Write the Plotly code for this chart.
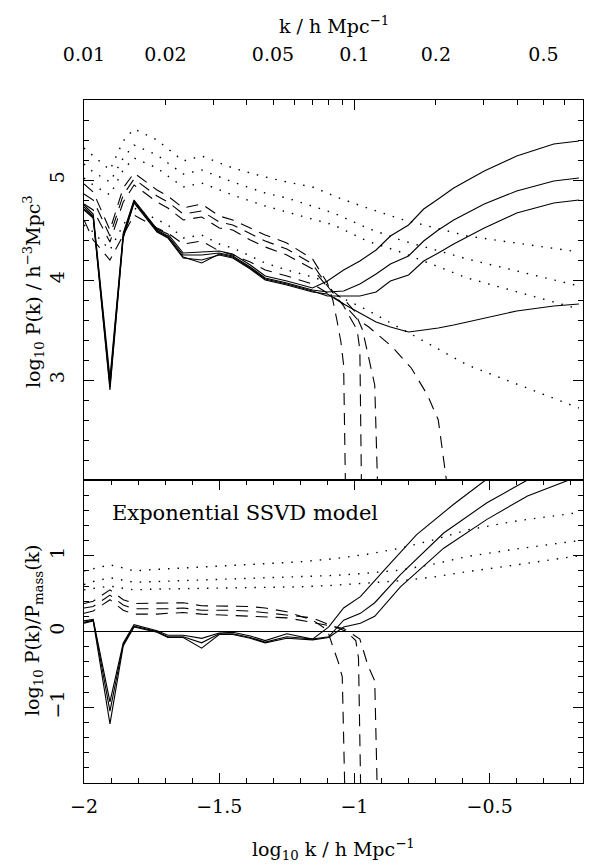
import math
import plotly.graph_objects as go

# ---------------- data ----------------
XMAX = math.log10(0.7)

# common low-k abscissae, log10 k
XL = [-2.0, -1.966, -1.904, -1.855, -1.815, -1.73, -1.69, -1.633, -1.565,
      -1.50, -1.45, -1.385, -1.33, -1.25, -1.155, -1.10]
# high-k abscissae for the solid curves
XH = [-1.04, -0.98, -0.92, -0.867, -0.80, -0.744, -0.69, -0.633, -0.52,
      -0.40, -0.263, -0.17]

# ---- upper panel: log10 P(k) ----
PK_MASS_LO = [4.70, 4.62, 2.90, 4.42, 4.77, 4.48, 4.42, 4.22, 4.20, 4.25,
              4.22, 4.11, 4.00, 3.95, 3.88, 3.86]
PK_MASS_HI = [3.76, 3.67, 3.58, 3.53, 3.48, 3.50, 3.52, 3.55, 3.62, 3.69,
              3.74, 3.76]
PK_G1_LO = [4.75, 4.66, 3.02, 4.47, 4.80, 4.51, 4.46, 4.27, 4.28, 4.29,
            4.26, 4.15, 4.04, 3.99, 3.92, 3.99]
PK_G1_HI = [4.10, 4.19, 4.30, 4.44, 4.55, 4.71, 4.81, 4.92, 5.09, 5.24,
            5.36, 5.39]
PK_G2_LO = [4.73, 4.64, 2.97, 4.45, 4.79, 4.50, 4.44, 4.25, 4.25, 4.27,
            4.24, 4.13, 4.02, 3.97, 3.90, 3.88]
PK_G2_HI = [3.89, 3.96, 4.06, 4.16, 4.24, 4.39, 4.50, 4.60, 4.76, 4.89,
            4.99, 5.02]
PK_G3_LO = [4.71, 4.63, 2.93, 4.43, 4.78, 4.49, 4.43, 4.23, 4.17, 4.26,
            4.23, 4.12, 4.01, 3.96, 3.89, 3.84]
PK_G3_HI = [3.84, 3.84, 3.88, 3.99, 4.05, 4.19, 4.27, 4.36, 4.52, 4.67,
            4.77, 4.80]

# dashed (damped redshift-space) curves, upper panel
PKD_A_LO = [4.96, 4.88, 4.50, 4.92, 5.07, 4.90, 4.84, 4.72, 4.76, 4.64,
            4.60, 4.52, 4.45, 4.37, 4.21, 3.97]
PKD_A_HX = [-1.08, -1.065, -1.05, -1.04, -1.032, -1.028]
PKD_A_HI = [3.80, 3.60, 3.38, 3.15, 2.00, 1.00]
PKD_B_LO = [4.86, 4.80, 4.44, 4.85, 5.01, 4.84, 4.78, 4.66, 4.69, 4.58,
            4.55, 4.46, 4.39, 4.31, 4.16, 3.94]
PKD_B_HX = [-1.04, -1.015, -0.99, -0.98, -0.975, -0.97]
PKD_B_HI = [3.74, 3.62, 3.50, 3.30, 2.00, 1.00]
PKD_C_LO = [4.76, 4.70, 4.38, 4.78, 4.95, 4.78, 4.72, 4.60, 4.63, 4.52,
            4.50, 4.40, 4.33, 4.25, 4.11, 3.93]
PKD_C_HX = [-1.03, -1.00, -0.97, -0.95, -0.935, -0.925, -0.915, -0.91]
PKD_C_HI = [3.78, 3.69, 3.50, 3.25, 3.06, 2.95, 2.00, 1.00]
PKD_D_LO = [4.60, 4.40, 4.20, 4.45, 4.65, 4.52, 4.47, 4.36, 4.39, 4.29,
            4.25, 4.18, 4.10, 4.04, 3.96, 3.87]
PKD_D_HX = [-1.04, -0.99, -0.947, -0.86, -0.79, -0.73, -0.69, -0.66, -0.655]
PKD_D_HI = [3.76, 3.61, 3.53, 3.33, 3.12, 2.85, 2.60, 2.00, 1.00]

# dotted curves, upper panel
XDH = [-1.077, -0.953, -0.83, -0.583, -0.17]
PKT_1_LO = [5.32, 5.24, 5.10, 5.39, 5.51, 5.40, 5.31, 5.19, 5.24, 5.17,
            5.12, 5.07, 5.03, 4.98, 4.93, 4.87]
PKT_1_HI = [4.84, 4.72, 4.61, 4.44, 4.28]
PKT_2_LO = [5.16, 5.08, 4.98, 5.22, 5.35, 5.25, 5.17, 5.06, 5.10, 5.03,
            4.98, 4.92, 4.87, 4.82, 4.74, 4.69]
PKT_2_HI = [4.67, 4.52, 4.40, 4.21, 3.94]
PKT_3_LO = [5.02, 4.95, 4.85, 5.10, 5.22, 5.12, 5.04, 4.93, 4.97, 4.90,
            4.85, 4.79, 4.74, 4.68, 4.61, 4.57]
PKT_3_HI = [4.55, 4.39, 4.28, 4.02, 3.71]
PKT_4_LO = [4.55, 4.48, 4.30, 4.55, 4.72, 4.60, 4.55, 4.42, 4.45, 4.36,
            4.32, 4.24, 4.17, 4.10, 4.03, 3.98]
PKT_4_HI = [3.86, 3.70, 3.52, 3.15, 2.72]

# ---- lower panel: log10 P(k)/P_mass(k) ----
XL15 = XL[:15]
R_S1_LO = [0.14, 0.16, -0.93, -0.15, 0.09, 0.01, -0.05, -0.05, -0.09, -0.02,
           -0.01, -0.06, -0.12, -0.03, -0.10]
R_S1_HX = [-1.095, -1.04, -0.978, -0.89, -0.77, -0.633, -0.515, -0.40]
R_S1_HI = [0.06, 0.31, 0.46, 0.81, 1.28, 1.68, 2.00, 2.35]
R_S2_LO = [0.12, 0.15, -1.05, -0.17, 0.07, 0.00, -0.07, -0.07, -0.15, -0.03,
           -0.03, -0.08, -0.14, -0.07, -0.10]
R_S2_HX = [-1.095, -1.04, -0.978, -0.925, -0.83, -0.67, -0.51, -0.36, -0.25]
R_S2_HI = [-0.07, 0.15, 0.24, 0.38, 0.75, 1.30, 1.70, 2.00, 2.30]
R_S3_LO = [0.11, 0.14, -1.22, -0.19, 0.06, -0.01, -0.08, -0.08, -0.22, -0.04,
           -0.04, -0.09, -0.15, -0.09, -0.11]
R_S3_HX = [-1.095, -1.04, -0.978, -0.925, -0.83, -0.67, -0.51, -0.36, -0.22,
           -0.17]
R_S3_HI = [-0.08, 0.06, 0.11, 0.20, 0.59, 1.10, 1.48, 1.79, 1.98, 2.05]

R_D_A_LO = [0.37, 0.40, 0.55, 0.42, 0.37, 0.37, 0.37, 0.38, 0.34, 0.34,
            0.33, 0.33, 0.31, 0.26, 0.15]
R_D_A_HX = [-1.10, -1.08, -1.06, -1.045, -1.035, -1.03]
R_D_A_HI = [0.02, -0.20, -0.40, -0.60, -2.50, -3.00]
R_D_B_LO = [0.31, 0.33, 0.48, 0.35, 0.30, 0.30, 0.30, 0.31, 0.28, 0.28,
            0.28, 0.27, 0.25, 0.22, 0.18]
R_D_B_HX = [-1.10, -1.03, -0.995, -0.985, -0.975, -0.97]
R_D_B_HI = [0.10, 0.00, -0.12, -0.35, -2.50, -3.00]
R_D_C_LO = [0.24, 0.27, 0.42, 0.28, 0.23, 0.23, 0.24, 0.25, 0.23, 0.22,
            0.22, 0.21, 0.20, 0.18, 0.12]
R_D_C_HX = [-1.10, -1.04, -0.98, -0.95, -0.925, -0.915, -0.91]
R_D_C_HI = [0.08, 0.04, -0.10, -0.45, -0.65, -2.50, -3.00]

XRT = [-2.0, -1.966, -1.904, -1.855, -1.815, -1.73, -1.5, -1.2, -1.077,
       -0.953, -0.83, -0.707, -0.583, -0.40, -0.17]
R_T1 = [0.80, 0.83, 0.88, 0.84, 0.80, 0.82, 0.86, 0.92, 0.96, 1.02, 1.10,
        1.21, 1.34, 1.46, 1.57]
R_T2 = [0.62, 0.66, 0.71, 0.68, 0.65, 0.66, 0.69, 0.72, 0.74, 0.77, 0.81,
        0.89, 0.99, 1.09, 1.20]
R_T3 = [0.55, 0.57, 0.60, 0.57, 0.55, 0.56, 0.57, 0.59, 0.61, 0.64, 0.67,
        0.72, 0.79, 0.88, 1.00]

TOP_TICK_K = [0.01, 0.02, 0.05, 0.1, 0.2, 0.5]
TOP_TICK_LABELS = ["0.01", "0.02", "0.05", "0.1", "0.2", "0.5"]
TOP_MINOR_K = [0.03, 0.04, 0.06, 0.07, 0.08, 0.09, 0.3, 0.4, 0.6, 0.7]
TOP_LONG_K = [0.01, 0.1]

# ---------------- figure ----------------
FONT = "DejaVu Serif"
fig = go.Figure()

SOLID = dict(color="black", width=1.1)
DASH = dict(color="black", width=1.1, dash="12px,8px")
DOT = dict(color="black", width=1.4, dash="1.5px,8px")


def add(x, y, line, upper):
    fig.add_trace(go.Scatter(x=x, y=y, mode="lines", line=line,
                             xaxis="x2" if upper else "x",
                             yaxis="y2" if upper else "y",
                             showlegend=False, hoverinfo="skip"))


# upper panel
add(XL + XH, PK_MASS_LO + PK_MASS_HI, SOLID, True)
add(XL + XH, PK_G1_LO + PK_G1_HI, SOLID, True)
add(XL + XH, PK_G2_LO + PK_G2_HI, SOLID, True)
add(XL + XH, PK_G3_LO + PK_G3_HI, SOLID, True)
add(XL + PKD_A_HX, PKD_A_LO + PKD_A_HI, DASH, True)
add(XL + PKD_B_HX, PKD_B_LO + PKD_B_HI, DASH, True)
add(XL + PKD_C_HX, PKD_C_LO + PKD_C_HI, DASH, True)
add(XL + PKD_D_HX, PKD_D_LO + PKD_D_HI, DASH, True)
add(XL + XDH, PKT_1_LO + PKT_1_HI, DOT, True)
add(XL + XDH, PKT_2_LO + PKT_2_HI, DOT, True)
add(XL + XDH, PKT_3_LO + PKT_3_HI, DOT, True)
add(XL + XDH, PKT_4_LO + PKT_4_HI, DOT, True)

# lower panel
add(XL15 + R_S1_HX, R_S1_LO + R_S1_HI, SOLID, False)
add(XL15 + R_S2_HX, R_S2_LO + R_S2_HI, SOLID, False)
add(XL15 + R_S3_HX, R_S3_LO + R_S3_HI, SOLID, False)
add(XL15 + R_D_A_HX, R_D_A_LO + R_D_A_HI, DASH, False)
add(XL15 + R_D_B_HX, R_D_B_LO + R_D_B_HI, DASH, False)
add(XL15 + R_D_C_HX, R_D_C_LO + R_D_C_HI, DASH, False)
add(XRT, R_T1, DOT, False)
add(XRT, R_T2, DOT, False)
add(XRT, R_T3, DOT, False)

# invisible helper trace so that the overlaid top axis (long ticks) is drawn
fig.add_trace(go.Scatter(x=[math.log10(v) for v in TOP_LONG_K],
                         y=PKT_1_HI[:2], mode="markers",
                         marker=dict(opacity=0), xaxis="x3", yaxis="y2",
                         showlegend=False, hoverinfo="skip"))

SPLIT = 303 / 683
TF = dict(family=FONT, size=19, color="black")

fig.update_layout(
    width=594, height=865,
    margin=dict(l=84, r=11, t=100, b=82),
    plot_bgcolor="white", paper_bgcolor="white",
    font=TF, showlegend=False,
    xaxis=dict(domain=[0, 1], anchor="y", range=[-2, XMAX],
               showgrid=False, zeroline=False, showline=True,
               linecolor="black", linewidth=1, mirror="ticks",
               ticks="inside", ticklen=10, tickwidth=1, tickcolor="black",
               tickmode="linear", tick0=-2, dtick=0.5,
               tickfont=TF, ticklabelstandoff=6,
               minor=dict(ticks="inside", ticklen=5, tickcolor="black",
                          tickmode="linear", tick0=-2, dtick=0.1)),
    xaxis2=dict(domain=[0, 1], anchor="y2", matches="x", range=[-2, XMAX],
                side="top", showgrid=False, zeroline=False, showline=True,
                linecolor="black", linewidth=1, mirror=True,
                tickmode="array",
                tickvals=[math.log10(v) for v in TOP_TICK_K],
                ticktext=TOP_TICK_LABELS, tickfont=TF,
                ticks="inside", ticklen=5, tickcolor="black",
                ticklabelstandoff=30,
                minor=dict(tickmode="array",
                           tickvals=[math.log10(v) for v in TOP_MINOR_K],
                           ticks="inside", ticklen=5, tickcolor="black")),
    xaxis3=dict(range=[-2, XMAX], overlaying="x2", anchor="y2", side="top",
                showgrid=False, zeroline=False, showline=False,
                tickmode="array",
                tickvals=[math.log10(v) for v in TOP_LONG_K],
                showticklabels=False,
                ticks="inside", ticklen=10, tickcolor="black"),
    yaxis=dict(domain=[0, SPLIT], anchor="x", range=[-2, 2],
               showgrid=False, showline=True, linecolor="black", linewidth=1,
               mirror="ticks", ticks="inside", ticklen=10, tickcolor="black",
               tickmode="array", tickvals=[-1, 0, 1], tickfont=TF,
               tickangle=-90, ticklabelstandoff=11,
               zeroline=True, zerolinecolor="black", zerolinewidth=1,
               minor=dict(ticks="inside", ticklen=5, tickcolor="black",
                          tickmode="linear", tick0=0, dtick=0.2)),
    yaxis2=dict(domain=[SPLIT, 1], anchor="x2", range=[2, 5.8],
                showgrid=False, zeroline=False, showline=True,
                linecolor="black", linewidth=1,
                mirror="ticks", ticks="inside", ticklen=10, tickcolor="black",
                tickmode="array", tickvals=[3, 4, 5], tickfont=TF,
                tickangle=-90, ticklabelstandoff=11,
                minor=dict(ticks="inside", ticklen=5, tickcolor="black",
                           tickmode="linear", tick0=2, dtick=0.2)),
)


def py(Y):
    return (783 - Y) / 683


def px(X):
    return (X - 84) / 499


ann = [
    dict(text="k / h Mpc<sup>−1</sup>", x=0.5, y=py(25)),
    dict(text="log<sub>10</sub> k / h Mpc<sup>−1</sup>", x=0.5, y=py(849)),
    dict(text="log<sub>10</sub> P(k) / h<sup>−3</sup>Mpc<sup>3</sup>",
         x=px(33), y=py(292), textangle=-90),
    dict(text="log<sub>10</sub> P(k)/P<sub>mass</sub>(k)",
         x=px(33), y=py(630), textangle=-90),
]
for a in ann:
    fig.add_annotation(xref="paper", yref="paper", showarrow=False,
                       xanchor="center", yanchor="middle", font=TF, **a)
fig.add_annotation(xref="paper", yref="paper", showarrow=False,
                   text="Exponential SSVD model", x=px(110), y=py(513),
                   xanchor="left", yanchor="middle",
                   font=dict(family=FONT, size=21, color="black"))

fig.write_html("out.html")
